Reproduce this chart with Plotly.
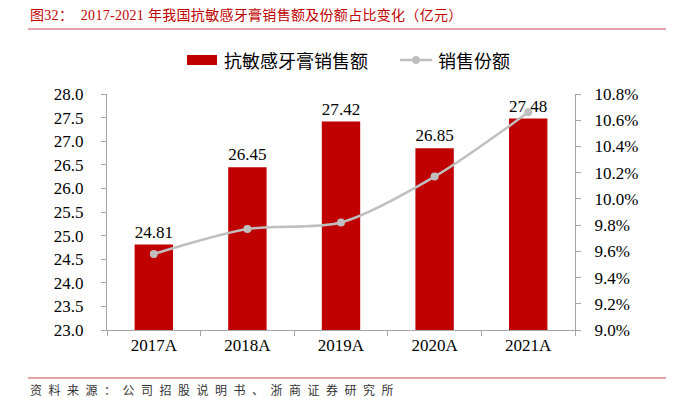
import plotly.graph_objects as go

categories = ["2017A", "2018A", "2019A", "2020A", "2021A"]
sales = [24.81, 26.45, 27.42, 26.85, 27.48]
share = [0.0958, 0.0977, 0.0982, 0.1017, 0.1066]

bar_name = "抗敏感牙膏销售额"
line_name = "销售份额"
title_text = "图32：  2017-2021 年我国抗敏感牙膏销售额及份额占比变化（亿元）"
source_text = "资料来源：公司招股说明书、浙商证券研究所"

FONT = "Liberation Serif, 'Times New Roman', 'Noto Sans CJK SC', serif"
CJK = "'Noto Sans CJK SC', sans-serif"
AXIS_GRAY = "#A6A6A6"
BAR_RED = "#C00000"
LINE_GRAY = "#BFBFBF"

W, H = 677, 397
ML, MR, MT, MB = 107, 102, 94, 67
plot_w = W - ML - MR
plot_h = H - MT - MB


def px_x(px):
    return (px - ML) / plot_w


def px_y(py):
    return (H - MB - py) / plot_h


fig = go.Figure()
fig.add_trace(go.Bar(
    x=categories, y=sales, name=bar_name,
    marker=dict(color=BAR_RED, line=dict(width=0)),
    text=[f"{v:.2f}" for v in sales], textposition="outside",
    textfont=dict(family=FONT, size=18, color="#000000"),
    cliponaxis=False, yaxis="y", hoverinfo="skip",
))
fig.add_trace(go.Scatter(
    x=categories, y=share, name=line_name, mode="lines+markers",
    line=dict(color=LINE_GRAY, width=2.5, shape="spline", smoothing=0.8),
    marker=dict(color=LINE_GRAY, size=8),
    yaxis="y2", cliponaxis=False, hoverinfo="skip",
))

fig.update_layout(
    width=W, height=H,
    margin=dict(l=ML, r=MR, t=MT, b=MB, autoexpand=False),
    paper_bgcolor="white", plot_bgcolor="white",
    font=dict(family=FONT, size=16, color="#000000"),
    bargap=0.59,
    showlegend=False,
    xaxis=dict(
        type="category", showline=True, linecolor=AXIS_GRAY, linewidth=1,
        ticks="outside", tickson="boundaries", ticklen=5, tickcolor=AXIS_GRAY,
        tickfont=dict(family=FONT, size=17), showgrid=False, zeroline=False,
    ),
    yaxis=dict(
        range=[23, 28], dtick=0.5, tick0=23, tickformat=".1f",
        showline=True, linecolor=AXIS_GRAY, linewidth=1,
        ticks="outside", ticklen=5, tickcolor=AXIS_GRAY,
        tickfont=dict(family=FONT, size=17), showgrid=False, zeroline=False,
        ticklabelstandoff=14,
    ),
    yaxis2=dict(
        range=[0.09, 0.108], dtick=0.002, tick0=0.09, tickformat=".1%",
        overlaying="y", side="right",
        showline=True, linecolor=AXIS_GRAY, linewidth=1,
        ticks="outside", ticklen=5, tickcolor=AXIS_GRAY,
        tickfont=dict(family=FONT, size=17), showgrid=False, zeroline=False,
        ticklabelstandoff=10,
    ),
)

# title and source
fig.add_annotation(
    text=f"<span style='letter-spacing:0.3px'>{title_text}</span>",
    xref="paper", yref="paper", x=px_x(28), y=px_y(15),
    xanchor="left", yanchor="middle", showarrow=False,
    font=dict(family=FONT, size=14, color="#C00000"),
)
fig.add_annotation(
    text=f"<span style='letter-spacing:6.5px'>{source_text}</span>",
    xref="paper", yref="paper", x=px_x(28), y=px_y(389),
    xanchor="left", yanchor="middle", showarrow=False,
    font=dict(family=CJK, size=12, color="#333333"),
)
for yy in (29, 378):
    fig.add_shape(type="line", xref="paper", yref="paper",
                  x0=px_x(28), x1=px_x(666), y0=px_y(yy), y1=px_y(yy),
                  line=dict(color="#D9868A", width=1.5))

# manual legend
LY = 60
fig.add_shape(type="rect", xref="paper", yref="paper",
              x0=px_x(187), x1=px_x(217), y0=px_y(LY - 5), y1=px_y(LY + 5),
              fillcolor=BAR_RED, line=dict(width=0))
fig.add_annotation(
    text=bar_name, xref="paper", yref="paper", x=px_x(222), y=px_y(LY),
    xanchor="left", yanchor="middle", showarrow=False,
    font=dict(family=CJK, size=18, color="#000000"),
)
fig.add_shape(type="line", xref="paper", yref="paper",
              x0=px_x(400), x1=px_x(432), y0=px_y(LY), y1=px_y(LY),
              line=dict(color=LINE_GRAY, width=2.5))
fig.add_shape(type="circle", xref="paper", yref="paper",
              x0=px_x(412), x1=px_x(420), y0=px_y(LY - 4), y1=px_y(LY + 4),
              fillcolor=LINE_GRAY, line=dict(width=0))
fig.add_annotation(
    text=line_name, xref="paper", yref="paper", x=px_x(436), y=px_y(LY),
    xanchor="left", yanchor="middle", showarrow=False,
    font=dict(family=CJK, size=18, color="#000000"),
)

fig.write_html(
    "out.html",
    config={"displayModeBar": False, "staticPlot": True},
    post_script="document.body.style.margin='0';document.body.style.padding='0';",
)
